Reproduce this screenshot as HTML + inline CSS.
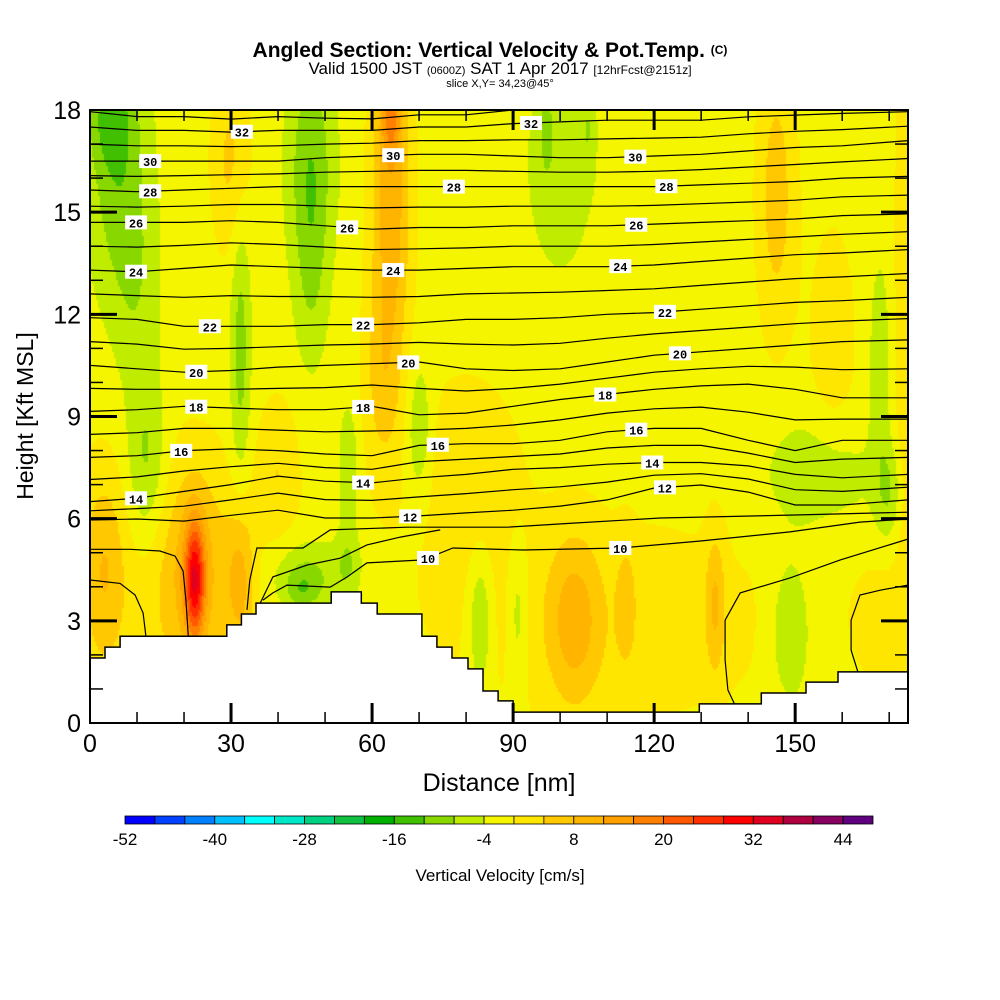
<!DOCTYPE html>
<html><head><meta charset="utf-8">
<style>
html,body{margin:0;padding:0;background:#fff;}
#wrap{position:relative;width:1000px;height:1000px;background:#fff;font-family:"Liberation Sans",sans-serif;}
#field{position:absolute;left:90px;top:110px;}
#ov{position:absolute;left:0;top:0;}
</style></head>
<body>
<div id="wrap">
<canvas id="field" width="818" height="613"></canvas>
<svg id="ov" width="1000" height="1000" xmlns="http://www.w3.org/2000/svg">
  <text x="490" y="57" text-anchor="middle" font-size="21" font-weight="bold">Angled Section: Vertical Velocity &amp; Pot.Temp. <tspan font-size="12" dy="-3">(C)</tspan></text>
  <text x="500" y="74" text-anchor="middle" font-size="17">Valid 1500 JST <tspan font-size="11">(0600Z)</tspan> SAT 1 Apr 2017 <tspan font-size="12">[12hrFcst@2151z]</tspan></text>
  <text x="500" y="87" text-anchor="middle" font-size="11">slice X,Y= 34,23@45°</text>
  <defs><clipPath id="pc"><rect x="90" y="110" width="818" height="613"/></clipPath></defs>
  <g id="contours" clip-path="url(#pc)"></g>
  <g id="terrain"></g>
  <g id="clabels"></g>
  <rect x="90" y="110" width="818" height="613" fill="none" stroke="#000" stroke-width="2"/>
  <g id="ticks"></g>
  <g id="xlab" font-size="25" text-anchor="middle"></g>
  <g id="ylab" font-size="25" text-anchor="end"></g>
  <text x="499" y="791" text-anchor="middle" font-size="25">Distance [nm]</text>
  <text transform="translate(33,416) rotate(-90)" text-anchor="middle" font-size="23">Height [Kft MSL]</text>
  <g id="cbar"></g>
  <g id="cblab" font-size="17" text-anchor="middle"></g>
  <text x="500" y="881" text-anchor="middle" font-size="17">Vertical Velocity [cm/s]</text>
</svg>
</div>
<script>
// ---- data ----
const xTicks = [0,30,60,90,120,150];
const yTicks = [0,3,6,9,12,15,18];
const cbarTicks = [-52,-40,-28,-16,-4,8,20,32,44];
const binColors = ["#0000ff","#0040ff","#0080ff","#00c0ff","#00ffff","#00e8c8","#00d080","#10c040","#00b000","#40c000","#88d800","#c0ec00","#f5f500","#ffe600","#ffc800","#ffb400","#ffa000","#ff8000","#ff5800","#ff3000","#ff0000","#e00020","#b00040","#880060","#600080"];
const binMin = -52, binStep = 4;
const baseW = -2;
// vertical-velocity blobs: centre distance (nm), centre height (kft), width nm, depth kft, amplitude cm/s
const blobX  = [22.3,22,3,32,15,12,6,4,10,30,32,47,47,64,64,62,46,45,55,70,55,80,83,91,103,114,133,110,100,97,106,146,158,155,170,149,168,174,168,40];
const blobZ  = [4.2,4.5,4.5,4.2,4,7.5,16.5,17.8,12.5,16.5,11,16.5,13,15.5,17.8,10,4.3,3.9,4.7,8.5,7.5,7.5,3,3.2,3,3.5,3.5,3,16.5,17.5,17.5,15.5,11,7.3,6.8,2.7,10.5,12,3,7.5];
const blobSX = [1.5,5,3,2,20,3,4.5,3,3.5,3,1.5,3.5,2.5,3,1.5,3,6,2.5,2,2,1.5,8,1.8,1.5,4,1.5,1.5,30,5,1,1,3,4,8,2,3,1.5,2,4,3];
const blobSZ = [1.2,2.2,2,1.5,3,1.8,2.8,1,2.2,2,3,2.3,2,3.5,0.8,2,0.8,0.4,0.8,1.5,1.3,2,1.5,1.5,1.8,1.3,1.5,2.5,2.3,1,1,3,3,1.2,1,1.5,2,8,1.2,1.5];
const blobAmp= [24,8,7,9,4,-8,-9,-6,-4,7,-8,-9,-5,13,10,6,-8,-5,-5,-7,-6,5,-8,-6,9,5,8,4,-5,-4,-4,8,4,-6,-6,-7,-6,6,4,5];
// terrain steps: start distance (nm), height (kft)
const terrZ = [1.91,2.23,2.55,2.88,3.2,3.52,3.85,3.52,3.2,2.55,2.23,1.91,1.59,0.94,0.65,0.32,0.56,0.88,1.2,1.5];
const terrXfull = [0,3.2,6.4,29.1,32.2,35.3,51.3,57.7,61.1,70.6,73.8,77.0,80.4,83.6,86.8,90.0,129.6,142.8,152.3,159.1];
// potential temperature contour stations
const stations = [0,10,20,30,40,50,60,70,80,90,100,110,120,130,140,150,160,174];
const theta32 = [17.5,17.4,17.4,17.35,17.4,17.4,17.4,17.5,17.5,17.6,17.65,17.7,17.7,17.7,17.8,17.85,17.9,17.95];
const theta30 = [16.5,16.5,16.5,16.5,16.5,16.6,16.65,16.7,16.7,16.65,16.6,16.6,16.65,16.7,16.8,16.9,16.95,17.1];
const theta28 = [15.65,15.6,15.65,15.7,15.75,15.75,15.75,15.75,15.75,15.75,15.75,15.75,15.75,15.8,15.85,15.9,16.0,16.05];
const theta26 = [14.7,14.7,14.7,14.75,14.7,14.6,14.5,14.55,14.55,14.6,14.6,14.6,14.65,14.7,14.75,14.8,14.9,14.95];
const theta24 = [13.3,13.25,13.35,13.45,13.4,13.35,13.3,13.3,13.35,13.4,13.4,13.4,13.45,13.55,13.65,13.75,13.8,13.9];
const theta22 = [11.9,11.85,11.65,11.65,11.65,11.7,11.7,11.75,11.85,11.85,11.9,12.0,12.05,12.15,12.25,12.35,12.4,12.5];
const theta20 = [10.5,10.4,10.3,10.35,10.45,10.5,10.55,10.6,10.4,10.35,10.4,10.6,10.8,10.9,11.0,11.1,11.2,11.25];
const theta18 = [9.15,9.2,9.3,9.25,9.2,9.2,9.3,9.05,9.1,9.3,9.5,9.65,9.8,9.9,9.95,9.8,9.55,9.55];
const theta16 = [7.8,7.85,8.0,8.05,8.0,7.9,7.85,8.15,8.2,8.2,8.3,8.55,8.65,8.65,8.3,8.0,8.3,8.3];
const theta14 = [6.5,6.6,6.8,7.0,7.25,7.1,7.05,7.2,7.3,7.45,7.5,7.6,7.65,7.65,7.55,7.3,7.2,7.3];
const theta12 = [5.96,5.99,5.93,6.1,6.25,6.02,6.02,6.08,6.17,6.25,6.37,6.55,6.9,6.99,6.78,6.4,6.4,6.55];
// lower (terrain-intersecting) contour segments
const seg11aX = [0,8.5,14.9,18.1,19.8,20.4,20.9];
const seg11aZ = [5.1,5.1,5.05,4.9,4.46,3.61,2.55];
const seg10aX = [0,6.4,9.6,11.3,11.9];
const seg10aZ = [4.2,4.1,3.76,3.23,2.55];
const seg11bX = [33.4,34.0,35.5,45.3,51.1,67.4,88.7,102.8,121.3,151.1,174];
const seg11bZ = [3.32,4.2,5.14,5.14,5.67,5.75,5.75,5.87,6.02,6.11,6.19];
const seg10bX = [36.2,38.9,46.2,53.2,58.9,66.0,74.5];
const seg10bZ = [3.52,4.29,4.64,4.84,5.23,5.46,5.67];
const seg10cX = [36.8,38.9,41.9,51.1,54.7,58.9,70.9,77.2,92.1,112.8,129.6,148.9,163.8,174];
const seg10cZ = [3.61,3.82,4.05,3.99,4.29,4.7,4.79,5.14,5.08,5.14,5.34,5.61,5.9,5.99];
const seg9aX = [137.2,135.7,135.1,135.1,138.3,148.9,159.6,174];
const seg9aZ = [0.53,0.97,1.85,3.02,3.82,4.26,4.79,5.4];
const seg9bX = [163.4,161.9,161.9,163.8,168.1,174];
const seg9bZ = [1.47,2.14,3.02,3.76,3.9,4.05];
// contour labels: level and distance
const labelLevels = [32,32,30,30,30,28,28,28,26,26,26,24,24,24,22,22,22,20,20,20,18,18,18,16,16,16,14,14,14,12,12];
const labelDist   = [32.3,93.8,12.8,64.5,116,12.8,77.4,122.6,9.8,54.7,116.2,9.8,64.5,112.8,25.5,58.1,122.3,22.6,67.7,125.5,22.6,58.1,109.6,19.4,74,116.2,9.8,58.1,119.6,68.1,122.3];
const label10Dist = [71.9,112.8];

// ---- axes ----
const X0=90, X1=908, Y0=723, Y1=110, XMAX=174, ZMAX=18;
const sx = d => X0 + d*(X1-X0)/XMAX;
const sy = z => Y0 - z*(Y0-Y1)/ZMAX;
const NS="http://www.w3.org/2000/svg";
function mk(tag, attrs, parent){const e=document.createElementNS(NS,tag);for(const k in attrs)e.setAttribute(k,attrs[k]);parent.appendChild(e);return e;}

// ---- field ----
function wAt(d,z){let v=baseW;for(let i=0;i<blobX.length;i++){const a=(d-blobX[i])/blobSX[i],b=(z-blobZ[i])/blobSZ[i];v+=blobAmp[i]*Math.exp(-0.5*(a*a+b*b));}return v;}
const cv=document.getElementById('field'),ctx=cv.getContext('2d');
const C=2;
for(let py=0;py<613;py+=C){for(let px=0;px<818;px+=C){
  const d=(px+C/2)*XMAX/818, z=ZMAX-(py+C/2)*ZMAX/613;
  let b=Math.floor((wAt(d,z)-binMin)/binStep);b=Math.max(0,Math.min(binColors.length-1,b));
  ctx.fillStyle=binColors[b];ctx.fillRect(px,py,C,C);
}}

// ---- contours ----
const cg=document.getElementById('contours');
function poly(xs,zs,name){
  const p=mk('polyline',{points:xs.map((x,i)=>sx(x).toFixed(1)+','+sy(zs[i]).toFixed(1)).join(' '),fill:'none',stroke:'#000','stroke-width':1.2},cg);
  
  
}
const evenLv={12:theta12,14:theta14,16:theta16,18:theta18,20:theta20,22:theta22,24:theta24,26:theta26,28:theta28,30:theta30,32:theta32};
for(const lv in evenLv) poly(stations,evenLv[lv],'theta-contour-'+lv);
for(let lv=13;lv<=31;lv+=2){const a=evenLv[lv-1],b=evenLv[lv+1];poly(stations,a.map((v,i)=>(v+b[i])/2),'theta-contour-'+lv);}
poly(stations,theta32.map((v,i)=>Math.min(18,v+(v-theta30[i])*0.45)),'theta-contour-33');
poly(seg11aX,seg11aZ,'theta-contour-11-left');
poly(seg10aX,seg10aZ,'theta-contour-10-left');
poly(seg11bX,seg11bZ,'theta-contour-11');
poly(seg10bX,seg10bZ,'theta-contour-10-inner');
poly(seg10cX,seg10cZ,'theta-contour-10');
poly(seg9aX,seg9aZ,'theta-contour-9');
poly(seg9bX,seg9bZ,'theta-contour-9-right');

// ---- terrain ----
const tg=document.getElementById('terrain');
let pts=[[sx(0),sy(0)]];
for(let i=0;i<terrXfull.length;i++){const x0=terrXfull[i],x1=i+1<terrXfull.length?terrXfull[i+1]:XMAX;pts.push([sx(x0),sy(terrZ[i])]);pts.push([sx(x1),sy(terrZ[i])]);}
pts.push([sx(XMAX),sy(0)]);
const tp=mk('polygon',{points:pts.map(p=>p[0].toFixed(1)+','+p[1].toFixed(1)).join(' '),fill:'#fff',stroke:'#000','stroke-width':1.5},tg);



// ---- contour labels ----
const lg=document.getElementById('clabels');
function interp(xs,zs,d){for(let i=0;i<xs.length-1;i++){if(d>=xs[i]&&d<=xs[i+1]){const t=(d-xs[i])/(xs[i+1]-xs[i]);return zs[i]+t*(zs[i+1]-zs[i]);}}return zs[zs.length-1];}
function lab(lv,d,z){
  const x=sx(d),y=sy(z);
  const r=mk('rect',{x:x-11,y:y-7,width:22,height:14,fill:'#fff'},lg);
  
  
  const t=mk('text',{x:x,y:y+5,'text-anchor':'middle','font-size':12,'font-family':'Liberation Mono, monospace','font-weight':'bold'},lg);
  t.textContent=lv;
  
  
}
labelLevels.forEach((lv,i)=>lab(lv,labelDist[i],interp(stations,evenLv[lv],labelDist[i])));
label10Dist.forEach(d=>lab(10,d,interp(seg10cX,seg10cZ,d)));

// ---- ticks ----
const tk=document.getElementById('ticks');
function line(x1,y1,x2,y2,w,name){const l=mk('line',{x1,y1,x2,y2,stroke:'#000','stroke-width':w},tk);}
for(let d=0;d<=170;d+=10){const major=d%30===0,L=major?20:11,w=major?3:1.5;const x=sx(d);
  if(d>0){line(x,Y0,x,Y0-L,w,'x-tick');line(x,Y1,x,Y1+L,w,'x-tick-top');}}
for(let z=1;z<18;z++){const major=z%3===0,L=major?27:13,w=major?3:1.5;const y=sy(z);
  line(X0,y,X0+L,y,w,'y-tick');line(X1,y,X1-L,y,w,'y-tick-right');}
const xl=document.getElementById('xlab');
xTicks.forEach(v=>{const t=mk('text',{x:sx(v),y:752},xl);t.textContent=v;});
const yl=document.getElementById('ylab');
yTicks.forEach(v=>{const t=mk('text',{x:81,y:sy(v)+9},yl);t.textContent=v;});

// ---- colorbar ----
const cb=document.getElementById('cbar');
const CB0=125,CB1=873,bw=(CB1-CB0)/binColors.length;
binColors.forEach((c,i)=>{const r=mk('rect',{x:CB0+i*bw,y:816,width:bw,height:8,fill:c,stroke:'#000','stroke-width':0.8},cb);});
const cl=document.getElementById('cblab');
cbarTicks.forEach(v=>{const t=mk('text',{x:CB0+(v-binMin)/binStep*bw,y:845},cl);t.textContent=v;});
</script>
</body></html>
